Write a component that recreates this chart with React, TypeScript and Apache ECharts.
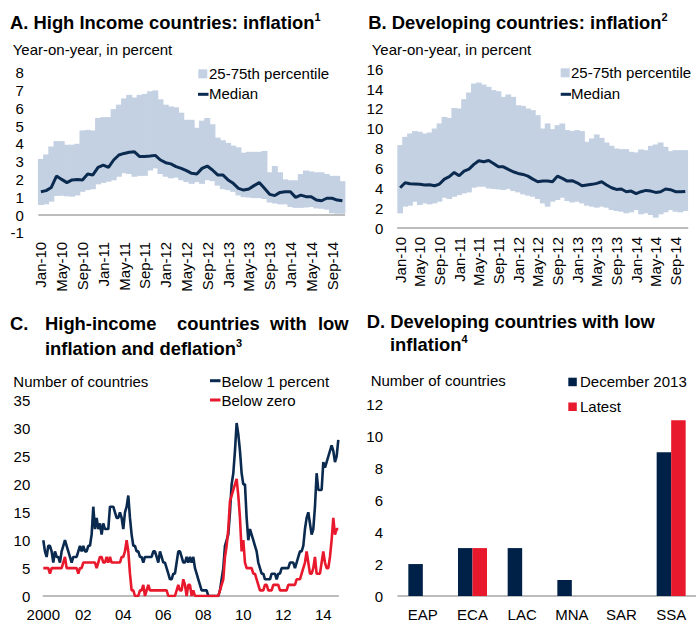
import React, { useEffect, useRef } from 'react';
import * as echarts from 'echarts';

// ---------- Data ----------
const MONTH_NAMES = ['Jan', 'Feb', 'Mar', 'Apr', 'May', 'Jun', 'Jul', 'Aug', 'Sep', 'Oct', 'Nov', 'Dec'];
const CATEGORIES_AB: string[] = [];
for (let i = 0; i < 59; i++) CATEGORIES_AB.push(`${MONTH_NAMES[i % 12]}-${10 + Math.floor(i / 12)}`);

// Panel A: high income inflation (Jan-10 .. Nov-14)
const P25_A = [0.56, 0.6, 0.75, 1.07, 1.08, 1.05, 1.03, 1.1, 1.3, 1.4, 1.45, 1.72, 1.8, 1.87, 1.95, 2.15, 2.35, 2.3, 2.15, 2.2, 2.2, 2.5, 2.62, 2.3, 2.15, 2.06, 2.1, 1.95, 1.85, 1.75, 1.85, 1.75, 1.96, 1.9, 1.65, 1.45, 1.4, 1.3, 1.1, 1.0, 0.98, 0.95, 0.95, 0.9, 0.7, 0.65, 0.6, 0.6, 0.45, 0.4, 0.4, 0.42, 0.45, 0.37, 0.35, 0.3, 0.1, 0.07, 0.07];
const P75_A = [3.15, 3.4, 3.85, 4.15, 4.15, 3.95, 3.95, 4.0, 4.75, 4.78, 4.75, 5.45, 5.5, 5.5, 5.95, 6.2, 6.55, 6.75, 6.6, 6.75, 6.8, 6.95, 7.0, 6.5, 6.2, 6.1, 6.05, 5.75, 5.35, 5.35, 4.9, 5.3, 5.45, 5.1, 4.35, 4.2, 4.05, 3.9, 3.8, 3.5, 3.55, 3.55, 3.55, 3.6, 2.4, 2.75, 2.4, 2.0, 1.95, 1.95, 2.3, 2.5, 2.45, 2.4, 2.4, 2.3, 2.2, 2.2, 1.9];
const MEDIAN_A = [1.31, 1.37, 1.55, 2.19, 2.0, 1.82, 1.97, 2.0, 1.97, 2.3, 2.25, 2.68, 2.8, 2.68, 3.09, 3.37, 3.46, 3.52, 3.55, 3.28, 3.28, 3.31, 3.35, 3.09, 2.94, 2.87, 2.72, 2.62, 2.49, 2.34, 2.3, 2.62, 2.75, 2.53, 2.25, 2.25, 1.97, 1.78, 1.5, 1.4, 1.46, 1.65, 1.82, 1.5, 1.16, 1.09, 1.27, 1.31, 1.31, 0.99, 1.12, 1.03, 1.03, 0.84, 0.8, 0.94, 0.94, 0.84, 0.8];

// Panel B: developing countries inflation
const P25_B = [1.48, 2.15, 2.25, 2.65, 2.32, 2.48, 2.38, 2.48, 2.65, 3.05, 2.92, 3.15, 3.32, 3.49, 3.59, 4.06, 4.16, 4.16, 3.99, 3.93, 3.89, 3.83, 3.93, 3.72, 3.59, 3.39, 3.26, 3.15, 2.92, 2.48, 2.15, 2.65, 2.82, 3.05, 2.72, 2.58, 2.65, 2.48, 2.25, 2.15, 2.05, 2.15, 2.05, 1.81, 1.71, 1.64, 1.48, 1.58, 1.81, 1.38, 1.48, 1.31, 1.04, 1.38, 1.58, 1.81, 1.64, 1.58, 1.71];
const P75_B = [8.36, 9.19, 9.53, 9.77, 9.7, 9.53, 9.63, 10.03, 10.54, 11.2, 11.1, 12.1, 12.05, 12.99, 13.66, 14.56, 14.66, 14.46, 14.23, 13.9, 13.79, 13.22, 13.46, 13.22, 12.38, 12.32, 12.05, 11.88, 11.38, 10.03, 10.54, 9.97, 10.37, 10.54, 9.87, 9.77, 9.87, 9.77, 8.69, 9.03, 9.43, 9.09, 8.62, 8.29, 8.02, 7.95, 7.95, 7.68, 7.62, 7.92, 7.85, 8.29, 8.42, 8.62, 8.19, 7.75, 7.85, 7.85, 7.85];
const MEDIAN_B = [4.06, 4.56, 4.46, 4.43, 4.4, 4.33, 4.36, 4.26, 4.43, 4.93, 5.17, 5.6, 5.27, 5.74, 5.94, 6.41, 6.78, 6.68, 6.81, 6.51, 6.17, 6.17, 5.91, 5.67, 5.5, 5.4, 5.23, 4.93, 4.66, 4.73, 4.73, 4.66, 5.23, 5.0, 4.73, 4.77, 4.56, 4.26, 4.33, 4.4, 4.5, 4.66, 4.33, 4.06, 3.89, 3.93, 3.66, 3.72, 3.46, 3.66, 3.79, 3.72, 3.59, 3.66, 3.93, 3.86, 3.66, 3.66, 3.69];

// Panel C: number of high-income countries (monthly, Jan 2000 .. Oct 2014)
const CATEGORIES_C: string[] = [];
for (let i = 0; i < 178; i++) CATEGORIES_C.push(`${2000 + Math.floor(i / 12)}-${String((i % 12) + 1).padStart(2, '0')}`);
const TICK_LABELS_C = ['2000', '02', '04', '06', '08', '10', '12', '14'];
const BELOW1_C = [
  10, 8, 7, 9, 9, 8, 6, 8, 7, 7,
  6, 8, 9, 10, 9, 8, 7, 6, 7, 7,
  7, 8, 9, 8, 9, 8, 8, 9, 9, 11,
  16, 12, 14, 12, 13, 11, 13, 12, 12, 12,
  16, 16, 16, 15, 14, 14, 15, 14, 12, 15,
  16, 18, 14, 11, 9, 9, 8, 8, 7, 7,
  6, 7, 7, 7, 7, 7, 8, 8, 7, 6,
  8, 7, 6, 6, 5, 4, 3, 3, 4, 4,
  6, 8, 8, 7, 6, 6, 7, 6, 7, 6,
  7, 5, 4, 3, 2, 1, 1, 1, 1, 0,
  0, 0, 0, 0, 0, 0, 1, 3, 5, 9,
  10, 11, 15, 20, 22, 26, 31, 29, 26, 22,
  20, 20, 14, 10, 12, 11, 10, 9, 8, 6,
  5, 4, 4, 3, 3, 3, 3, 4, 4, 4,
  3, 4, 4, 5, 5, 5, 5, 5, 6, 6,
  6, 5, 6, 7, 8, 8, 9, 12, 14, 15,
  13, 11, 12, 16, 22, 19, 19, 19, 24, 23,
  24, 25, 26, 27, 26, 24, 25, 28,
];
const BELOW0_C = [
  5, 5, 5, 5, 4, 5, 5, 5, 5, 5,
  5, 5, 6, 7, 5, 5, 5, 5, 5, 5,
  5, 4, 5, 5, 6, 6, 6, 6, 6, 6,
  6, 6, 5, 6, 7, 7, 6, 6, 7, 6,
  7, 6, 6, 6, 6, 6, 6, 7, 7, 8,
  10, 8, 4, 1, 1, 0, 0, 0, 1, 1,
  2, 0, 1, 2, 1, 1, 1, 1, 1, 1,
  1, 1, 1, 1, 1, 0, 0, 0, 0, 0,
  1, 2, 1, 1, 3, 2, 0, 2, 2, 0,
  1, 0, 0, 0, 0, 0, 0, 0, 0, 0,
  0, 0, 0, 0, 0, 0, 1, 2, 3, 7,
  9, 12, 17, 18, 19, 20, 21, 18, 14, 8,
  10, 6, 5, 5, 5, 5, 4, 4, 3, 2,
  1, 1, 1, 2, 2, 1, 1, 1, 2, 2,
  2, 2, 1, 1, 1, 1, 1, 2, 2, 2,
  2, 2, 3, 3, 3, 4, 5, 6, 8, 6,
  4, 4, 5, 7, 4, 4, 4, 6, 8, 6,
  5, 5, 7, 10, 14, 11, 12, 12,
];

// Panel D: developing countries with low inflation
const REGIONS_D = ['EAP', 'ECA', 'LAC', 'MNA', 'SAR', 'SSA'];
const DEC2013_D = [2, 3, 3, 1, 0, 9];
const LATEST_D = [0, 3, 0, 0, 0, 11];

// ---------- Styles ----------
const FONT = 'Liberation Sans, Arial, Helvetica, sans-serif';
const NAVY = '#0b2a4f';
const BAR_NAVY = '#002147';
const BAND = '#c4d1e3';
const RED = '#e8192c';
const AXIS_GRAY = '#a6a6a6';
const TITLE_SIZE = 18.4;

function titleText(x: number, y: number, main: string, sup?: string) {
  return {
    type: 'text',
    x,
    y,
    silent: true,
    style: {
      text: sup ? `{t|${main}}{s|${sup}}` : `{t|${main}}`,
      align: 'left',
      verticalAlign: 'middle',
      textAlign: 'left',
      textVerticalAlign: 'middle',
      fill: '#000',
      rich: {
        t: { fontFamily: FONT, fontSize: TITLE_SIZE, fontWeight: 'bold', lineHeight: 22, fill: '#000', color: '#000' },
        s: { fontFamily: FONT, fontSize: 11, fontWeight: 'bold', lineHeight: 8, verticalAlign: 'top', fill: '#000', color: '#000' },
      },
    },
  };
}

function plainText(x: number, y: number, text: string, size = 15, bold = false) {
  return {
    type: 'text',
    x,
    y,
    silent: true,
    style: {
      text,
      fontFamily: FONT,
      fontSize: size,
      fontWeight: bold ? 'bold' : 'normal',
      fill: '#000',
      align: 'left',
      verticalAlign: 'middle',
      textAlign: 'left',
      textVerticalAlign: 'middle',
    },
  };
}

function legendRect(x: number, y: number, size: number, color: string) {
  return { type: 'rect', silent: true, shape: { x, y, width: size, height: size }, style: { fill: color } };
}

function legendLine(x1: number, x2: number, y: number, color: string) {
  return { type: 'line', silent: true, shape: { x1, y1: y, x2, y2: y }, style: { stroke: color, lineWidth: 3 } };
}

const yLabel = (margin: number) => ({ fontSize: 15, color: '#000', fontFamily: FONT, margin });

function bandAxisX(gridIndex: number, showLine: boolean) {
  return {
    gridIndex,
    type: 'category',
    data: CATEGORIES_AB,
    boundaryGap: true,
    axisLine: { show: showLine, onZero: false, lineStyle: { color: AXIS_GRAY, width: 1.5 } },
    axisTick: { show: false },
    axisLabel: { interval: 3, rotate: 90, margin: 9, fontSize: 15, color: '#000', fontFamily: FONT },
    splitLine: { show: false },
  };
}

// Band of monthly 25th-75th percentile drawn as touching columns (slight overlap to avoid seams)
function bandRenderItem(params: any, api: any) {
  const idx = api.value(0);
  const lo = api.coord([idx, api.value(1)]);
  const hi = api.coord([idx, api.value(2)]);
  const w = api.size([1, 0])[0];
  return {
    type: 'rect',
    shape: { x: lo[0] - w / 2 - 0.4, y: hi[1], width: w + 0.8, height: lo[1] - hi[1] },
    style: { fill: BAND },
  };
}

function bandSeries(idx: number, p25: number[], p75: number[], median: number[], zeroLine: boolean) {
  const line: any = {
    type: 'line',
    xAxisIndex: idx,
    yAxisIndex: idx,
    data: median,
    symbol: 'none',
    lineStyle: { color: NAVY, width: 3 },
    itemStyle: { color: NAVY },
    silent: true,
    z: 5,
  };
  if (zeroLine) {
    line.markLine = {
      silent: true,
      symbol: ['none', 'none'],
      label: { show: false },
      lineStyle: { color: AXIS_GRAY, width: 1.5, type: 'solid' },
      data: [{ yAxis: 0 }],
    };
  }
  return [
    {
      type: 'custom',
      xAxisIndex: idx,
      yAxisIndex: idx,
      renderItem: bandRenderItem,
      data: p25.map((v, i) => [i, v, p75[i]]),
      encode: { x: 0, y: [1, 2] },
      silent: true,
      z: 1,
    },
    line,
  ];
}

const option: any = {
  animation: false,
  backgroundColor: '#ffffff',
  textStyle: { fontFamily: FONT },
  grid: [
    { left: 38.3, top: 72.6, width: 306.7, height: 160.2 },
    { left: 397.7, top: 69.3, width: 290, height: 158.7 },
    { left: 43.3, top: 400.7, width: 295, height: 196 },
    { left: 398, top: 404.3, width: 305.6, height: 192.4 },
  ],
  xAxis: [
    bandAxisX(0, false),
    bandAxisX(1, true),
    {
      gridIndex: 2,
      type: 'category',
      data: CATEGORIES_C,
      boundaryGap: false,
      axisLine: { show: true, lineStyle: { color: AXIS_GRAY, width: 1.5 } },
      axisTick: { show: false },
      axisLabel: {
        interval: (index: number) => index % 24 === 0,
        formatter: (value: string) => TICK_LABELS_C[(parseInt(value.slice(0, 4), 10) - 2000) / 2] ?? '',
        margin: 11,
        fontSize: 15,
        color: '#000',
        fontFamily: FONT,
      },
      splitLine: { show: false },
    },
    {
      gridIndex: 3,
      type: 'category',
      data: REGIONS_D,
      boundaryGap: true,
      axisLine: { show: true, lineStyle: { color: AXIS_GRAY, width: 1.5 } },
      axisTick: { show: false },
      axisLabel: { margin: 11, fontSize: 15, color: '#000', fontFamily: FONT },
      splitLine: { show: false },
    },
  ],
  yAxis: [
    { gridIndex: 0, type: 'value', min: -1, max: 8, interval: 1, axisLine: { show: false }, axisTick: { show: false }, splitLine: { show: false }, axisLabel: yLabel(14.5) },
    { gridIndex: 1, type: 'value', min: 0, max: 16, interval: 2, axisLine: { show: false }, axisTick: { show: false }, splitLine: { show: false }, axisLabel: yLabel(14.4) },
    { gridIndex: 2, type: 'value', min: 0, max: 35, interval: 5, axisLine: { show: false }, axisTick: { show: false }, splitLine: { show: false }, axisLabel: yLabel(13) },
    { gridIndex: 3, type: 'value', min: 0, max: 12, interval: 2, axisLine: { show: false }, axisTick: { show: false }, splitLine: { show: false }, axisLabel: yLabel(15) },
  ],
  series: [
    ...bandSeries(0, P25_A, P75_A, MEDIAN_A, true),
    ...bandSeries(1, P25_B, P75_B, MEDIAN_B, false),
    {
      name: 'Below 1 percent', type: 'line', xAxisIndex: 2, yAxisIndex: 2, data: BELOW1_C, symbol: 'none',
      lineStyle: { color: NAVY, width: 2.6 }, itemStyle: { color: NAVY }, silent: true,
    },
    {
      name: 'Below zero', type: 'line', xAxisIndex: 2, yAxisIndex: 2, data: BELOW0_C, symbol: 'none',
      lineStyle: { color: RED, width: 2.6 }, itemStyle: { color: RED }, silent: true,
    },
    {
      name: 'December 2013', type: 'bar', xAxisIndex: 3, yAxisIndex: 3, data: DEC2013_D, barWidth: 14.5, barGap: '0%',
      itemStyle: { color: BAR_NAVY }, silent: true,
    },
    {
      name: 'Latest', type: 'bar', xAxisIndex: 3, yAxisIndex: 3, data: LATEST_D, barWidth: 14.5, barGap: '0%',
      itemStyle: { color: RED }, silent: true,
    },
  ],
  graphic: [
    // Titles
    titleText(10, 22.5, 'A. High Income countries: inflation', '1'),
    titleText(368.3, 22, 'B. Developing countries: inflation', '2'),
    plainText(10, 323, 'C.', TITLE_SIZE, true),
    plainText(45, 323, 'High-income', TITLE_SIZE, true),
    plainText(177, 323, 'countries', TITLE_SIZE, true),
    plainText(270, 323, 'with', TITLE_SIZE, true),
    plainText(318, 323, 'low', TITLE_SIZE, true),
    titleText(45, 348, 'inflation and deflation', '3'),
    titleText(366.7, 321, 'D. Developing countries with low'),
    titleText(390, 344, 'inflation', '4'),
    // Subtitles
    plainText(12.7, 49.7, 'Year-on-year, in percent'),
    plainText(371.7, 49.7, 'Year-on-year, in percent'),
    plainText(13.3, 381.5, 'Number of countries'),
    plainText(370.7, 380, 'Number of countries'),
    // Legend A
    legendRect(198.3, 69.3, 9, BAND),
    plainText(209, 73.5, '25-75th percentile'),
    legendLine(198, 208.5, 94.3, NAVY),
    plainText(209, 93.5, 'Median'),
    // Legend B
    legendRect(560.7, 68.3, 9, BAND),
    plainText(571, 72, '25-75th percentile'),
    legendLine(560.7, 571, 94.3, NAVY),
    plainText(571, 93, 'Median'),
    // Legend C
    legendLine(210, 220.5, 380.7, NAVY),
    plainText(221.5, 381, 'Below 1 percent'),
    legendLine(210, 220.5, 400, RED),
    plainText(221.5, 400, 'Below zero'),
    // Legend D
    legendRect(568.3, 377.7, 8.5, BAR_NAVY),
    plainText(580, 381.7, 'December 2013'),
    legendRect(568.3, 402.5, 8.5, RED),
    plainText(580, 406.7, 'Latest'),
  ],
};

export default function App() {
  const ref = useRef<HTMLDivElement>(null);
  useEffect(() => {
    if (!ref.current) return;
    const chart = echarts.init(ref.current, null, { renderer: 'svg' });
    chart.setOption(option);
    return () => chart.dispose();
  }, []);
  return (
    <div
      ref={ref}
      style={{ position: 'absolute', left: 0, top: 0, width: 696, height: 622, background: '#fff' }}
    />
  );
}
